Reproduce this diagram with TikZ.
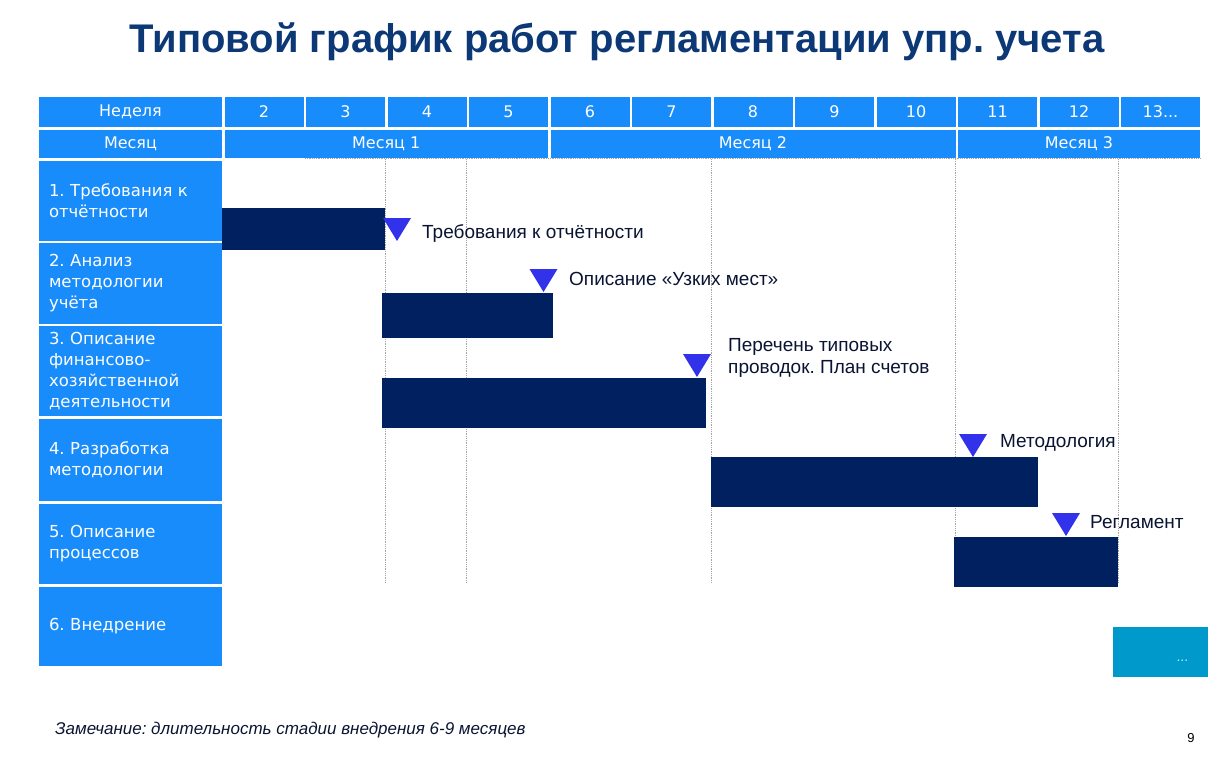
\documentclass[tikz,border=0pt]{standalone}
\usepackage{fontspec}
\setmainfont{Liberation Sans}
\newfontfamily\verd{DejaVu Sans}
\usetikzlibrary{positioning, calc}
\frenchspacing
\definecolor{hdrblue}{RGB}{24,140,250}
\definecolor{barnavy}{RGB}{0,32,96}
\definecolor{mstblue}{RGB}{50,50,235}
\definecolor{titleblue}{RGB}{12,56,118}
\definecolor{dotsbox}{RGB}{0,153,204}
\definecolor{gridgray}{RGB}{165,165,165}
\definecolor{lbltext}{RGB}{10,20,50}
\tikzset{
  cell/.style={
    rectangle, fill=hdrblue, draw=white, line width=2.5pt,
    text=white, inner sep=0pt, anchor=north west,
    font=\verd\fontsize{16}{19}\selectfont
  },
  wk/.style={cell, minimum width=81.5pt, minimum height=33pt},
  mon/.style={cell, minimum height=31pt},
  task/.style={cell, minimum width=185.5pt, text width=163pt, align=left,
    font=\verd\fontsize{16.5}{21}\selectfont},
  barbox/.style={rectangle, fill=barnavy, inner sep=0pt, anchor=north west},
  mst/.style={fill=mstblue},
  mlbl/.style={anchor=west, inner sep=0pt, text=lbltext, align=left,
    font=\fontsize{19}{22}\selectfont},
  gridln/.style={gridgray, densely dotted, line width=0.8pt}
}

\begin{document}
\begin{tikzpicture}[x=1pt, y=-1pt]
  \useasboundingbox (0,0) rectangle (1229,768);

  \node[font=\bfseries\fontsize{40}{44}\selectfont, text=titleblue] (title)
        at (617,42) {Типовой график работ регламентации упр. учета};

  %% шапка: недели и месяцы
  \node[wk, minimum width=185.5pt] (week) at (36.5,94) {Неделя};
  \foreach \w in {2,...,12}
    \node[wk] (wk\w) at ({222+81.5*(\w-2)},94) {\w};
  \node[wk] (wk13) at (1118.5,94) {13...};

  \node[mon, minimum width=185.5pt] (month) at (36.5,127) {Месяц};
  \node[mon, minimum width=326pt]   (mon1)  at (222,127)   {Месяц 1};
  \node[mon, minimum width=407.5pt] (mon2)  at (548,127)   {Месяц 2};
  \node[mon, minimum width=244.5pt] (mon3)  at (955.5,127) {Месяц 3};
  \draw[gridln] (305,158) -- (1200,158);

  %% этапы
  \node[task, minimum height=82.5pt] (r1) at (36.5,158)   {1. Требования к отчётности};
  \node[task, minimum height=83pt]   (r2) at (36.5,240.5) {2. Анализ методологии учёта};
  \node[task, minimum height=92.5pt] (r3) at (36.5,323.5) {3. Описание финансово-\\хозяйственной деятельности};
  \node[task, minimum height=85pt]   (r4) at (36.5,416)   {4. Разработка методологии};
  \node[task, minimum height=83pt]   (r5) at (36.5,501)   {5. Описание процессов};
  \node[task, minimum height=82pt]   (r6) at (36.5,584)   {6. Внедрение};

  %% пунктирная сетка
  \foreach \gx in {385,466.5,711,955.5,1118.5}
    \draw[gridln] (\gx,159) -- (\gx,583);

  %% полосы работ
  \node[barbox, minimum width=163pt, minimum height=42pt] (b1) at (222,208) {};
  \node[barbox, minimum width=171pt, minimum height=45pt] (b2) at (382,293) {};
  \node[barbox, minimum width=324pt, minimum height=50pt] (b3) at (382,378) {};
  \node[barbox, minimum width=327pt, minimum height=50pt] (b4) at (711,457) {};
  \node[barbox, minimum width=164pt, minimum height=50pt] (b5) at (954,537) {};

  %% вехи
  \coordinate (t1) at (397,218);
  \coordinate (t2) at (543.5,269);
  \coordinate (t3) at (697,354);
  \coordinate (t4) at (973,434);
  \coordinate (t5) at (1066,513);
  \foreach \t in {t1,t2,t3,t4,t5}
    \fill[mst] (\t) ++(-14,0) -- ++(28,0) -- ++(-14,23) -- cycle;

  \node[mlbl] (l1) at (422,234)  {Требования к отчётности};
  \node[mlbl] (l2) at (569,279)  {Описание «Узких мест»};
  \node[mlbl] (l3) at (728,358)  {Перечень типовых\\проводок. План счетов};
  \node[mlbl] (l4) at (1000,443) {Методология};
  \node[mlbl] (l5) at (1090,522) {Регламент};

  %% продолжение
  \node[rectangle, fill=dotsbox, inner sep=0pt, anchor=north west,
        minimum width=95pt, minimum height=50pt] (more) at (1113,627) {};
  \node[anchor=east, inner sep=0pt, text=cyan!25!white,
        font=\fontsize{14}{16}\selectfont] (moredots)
        at ($(more.south east)+(-20,-17)$) {...};

  %% примечание и номер страницы
  \node[anchor=west, inner sep=0pt, text=lbltext,
        font=\itshape\fontsize{17}{20}\selectfont] (note)
        at (55,730) {Замечание: длительность стадии внедрения 6-9 месяцев};
  \node[inner sep=0pt, font=\fontsize{13}{15}\selectfont] (pnum)
        at (1191,738) {9};

\end{tikzpicture}
\end{document}
